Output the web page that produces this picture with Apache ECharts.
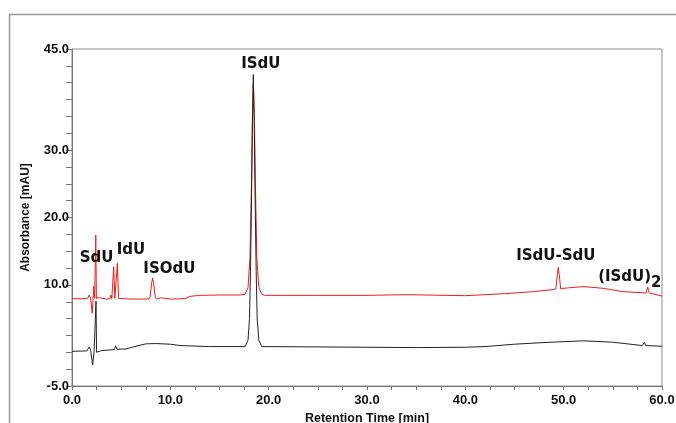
<!DOCTYPE html>
<html>
<head>
<meta charset="utf-8">
<script src="https://cdn.jsdelivr.net/npm/echarts@6/dist/echarts.min.js"></script>
<style>html,body{margin:0;padding:0;background:#fff;}#c{width:676px;height:423px;}</style>
</head>
<body>
<div id="c"></div>
<script>
// Red trace (upper chromatogram)
var redTime = [0, 1.0, 1.6, 1.75, 1.9, 2.05, 2.15, 2.22, 2.3, 2.36, 2.42, 2.48, 2.6, 2.8, 3.0, 3.5, 3.85, 3.95, 4.05, 4.12, 4.24, 4.36, 4.48, 4.61, 4.74, 4.9, 6.0, 7.8, 7.95, 8.1, 8.2, 8.3, 8.45, 8.6, 9.0, 9.2, 10.0, 11.5, 12.0, 13.0, 15.0, 17.0, 17.6, 17.9, 18.1, 18.25, 18.35, 18.44, 18.55, 18.65, 18.8, 19.0, 19.3, 19.6, 25, 30, 34, 36, 40, 44, 47, 48.9, 49.2, 49.35, 49.45, 49.55, 49.7, 50, 52, 54, 56, 58.4, 58.55, 58.7, 60];
var redValue = [7.95, 7.95, 8.0, 8.5, 8.0, 5.8, 8.0, 9.8, 8.0, 8.0, 17.4, 8.0, 7.9, 8.1, 7.9, 7.9, 7.95, 8.5, 7.95, 8.0, 12.7, 8.0, 8.0, 13.2, 8.0, 7.9, 7.9, 7.9, 8.3, 10.3, 11.0, 10.3, 8.3, 7.9, 8.1, 7.9, 7.9, 7.95, 8.3, 8.45, 8.5, 8.5, 8.6, 9.6, 14, 25, 35, 40.0, 35, 25, 14, 9.6, 8.6, 8.45, 8.45, 8.45, 8.55, 8.5, 8.4, 8.7, 9.0, 9.3, 9.4, 11.5, 12.6, 11.5, 9.4, 9.5, 9.75, 9.5, 9.0, 8.8, 9.7, 8.8, 8.35];

// Black trace (lower chromatogram)
var blackTime = [0, 1.5, 1.75, 1.9, 2.1, 2.25, 2.38, 2.44, 2.5, 2.6, 3.0, 4.3, 4.44, 4.58, 5.5, 6.5, 7.5, 8.5, 10.0, 11.0, 14.0, 17.6, 17.9, 18.05, 18.15, 18.25, 18.35, 18.44, 18.53, 18.63, 18.73, 18.83, 19.0, 19.3, 25, 30, 35, 40, 42, 45, 48, 52, 55, 58.0, 58.2, 58.35, 60];
var blackValue = [0.15, 0.2, 0.8, 0.3, -1.9, 0.2, 0.0, 7.6, 0.0, 0.15, 0.25, 0.4, 0.95, 0.45, 0.5, 0.9, 1.25, 1.3, 1.2, 1.0, 0.85, 0.85, 1.8, 5, 12, 22, 34, 41.2, 34, 22, 12, 5, 1.8, 0.85, 0.8, 0.75, 0.7, 0.75, 0.85, 1.2, 1.45, 1.7, 1.5, 1.0, 1.5, 1.0, 0.9];

// Peak annotations (data coordinates of the label centres)
var peakNames = ['SdU', 'IdU', 'ISOdU', 'ISdU', 'ISdU-SdU', '(ISdU)', '2'];
var peakTime  = [2.5, 6.0, 9.9, 19.2, 49.2, 56.2, 59.4];
var peakValue = [14.0, 15.1, 12.4, 42.7, 14.2, 11.1, 10.3];

// Axis tick labels shown
var yTickLabels = [-5, 10, 20, 30, 45];
var xTickLabels = [0, 10, 20, 30, 40, 50, 60];

function zip(a, b) { return a.map(function (v, i) { return [v, b[i]]; }); }

var chart = echarts.init(document.getElementById('c'), null, {renderer: 'canvas'});
var tickFont = {fontFamily: 'Liberation Sans', fontWeight: 'bold', fontSize: 13, color: '#111'};
chart.setOption({
  animation: false,
  backgroundColor: '#fff',
  graphic: [{
    type: 'rect', z: -10,
    shape: {x: 9.5, y: 14.5, width: 800, height: 600},
    style: {fill: 'none', stroke: '#9a9a9a', lineWidth: 1.5}
  }],
  grid: {left: 72, right: 14, top: 49, bottom: 37, outerBoundsMode: 'none', containLabel: false,
         show: true, borderColor: '#8c8c8c', borderWidth: 1, backgroundColor: 'transparent'},
  xAxis: {
    type: 'value', min: 0, max: 60, interval: 2.5,
    name: 'Retention Time [min]', nameLocation: 'middle', nameGap: 20,
    nameTextStyle: {fontFamily: 'Liberation Sans', fontWeight: 'bold', fontSize: 12.5, color: '#111'},
    axisLine: {onZero: false, lineStyle: {color: '#777', width: 1}},
    axisTick: {length: 4, lineStyle: {color: '#777'}},
    axisLabel: Object.assign({margin: 8, formatter: function (v) { return xTickLabels.indexOf(v) >= 0 ? v.toFixed(1) : ''; }}, tickFont),
    splitLine: {show: false}
  },
  yAxis: {
    type: 'value', min: -5, max: 45, interval: 2.5,
    name: 'Absorbance [mAU]', nameLocation: 'middle', nameGap: 40, nameRotate: 90,
    nameTextStyle: {fontFamily: 'Liberation Sans', fontWeight: 'bold', fontSize: 12, color: '#111'},
    axisLine: {onZero: false, lineStyle: {color: '#777', width: 1}},
    axisTick: {length: 6, lineStyle: {color: '#777'}},
    axisLabel: Object.assign({margin: 3, formatter: function (v) { return yTickLabels.indexOf(v) >= 0 ? v.toFixed(1) : ''; }}, tickFont),
    splitLine: {show: false}
  },
  series: [
    {type: 'line', name: 'black', data: zip(blackTime, blackValue), showSymbol: false, symbol: 'none',
     lineStyle: {color: '#222', width: 1}, z: 3},
    {type: 'line', name: 'red', data: zip(redTime, redValue), showSymbol: false, symbol: 'none',
     lineStyle: {color: '#ee1c1c', width: 1}, z: 2},
    {type: 'scatter', data: peakTime.map(function (t, i) { return {value: [t, peakValue[i]], name: peakNames[i]}; }),
     symbolSize: 0, itemStyle: {color: '#111', opacity: 1}, z: 5, silent: true,
     label: {show: true, position: 'inside', formatter: '{b}', fontFamily: 'DejaVu Sans', fontWeight: 'bold', fontSize: 15,
             color: '#111', opacity: 1, textBorderWidth: 0}}
  ]
});
</script>
</body>
</html>
